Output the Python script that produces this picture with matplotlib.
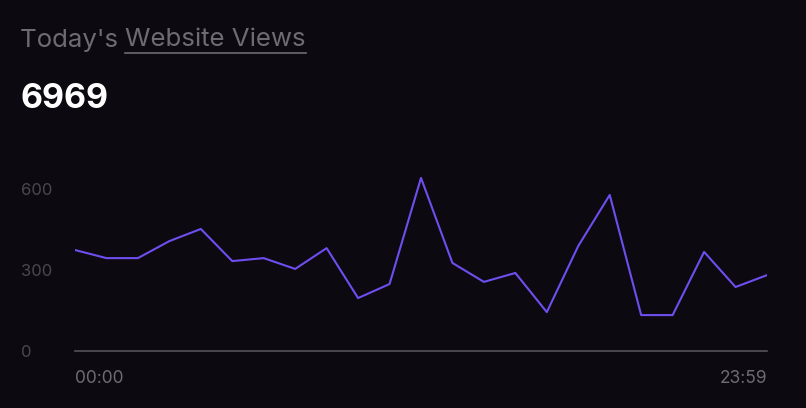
import matplotlib.pyplot as plt
from matplotlib.lines import Line2D

plt.rcParams['font.family'] = ['Inter', 'DejaVu Sans']

hours = list(range(23))
views = [374, 344, 344, 407, 452, 333, 344, 304, 381, 196, 248, 641, 326,
         256, 289, 144, 389, 578, 133, 133, 367, 237, 281]
yticks = [0, 300, 600]
xlabels = ['00:00', '23:59']
total = '6969'

bg = '#0c0a10'
grey = '#6e6b73'

fig = plt.figure(figsize=(8.06, 4.08), dpi=100, facecolor=bg)
ax = fig.add_axes([75 / 806, 57 / 408, 692 / 806, 189 / 408], facecolor=bg)
ax.plot(hours, views, color='#6d4ff0', lw=1.5)
ax.set_xlim(0, len(hours) - 1)
ax.set_ylim(0, 700)
ax.set_yticks(yticks)
ax.set_yticklabels([str(v) for v in yticks], color='#4a4750', fontsize=12)
ax.set_xticks([0, len(hours) - 1])
ax.set_xticklabels(xlabels, color=grey, fontsize=12.5)
ax.get_xticklabels()[0].set_ha('left')
ax.get_xticklabels()[1].set_ha('right')
ax.tick_params(length=0, pad=14)
ax.tick_params(axis='y', pad=39)
for s in ['top', 'right', 'left']:
    ax.spines[s].set_visible(False)
ax.spines['bottom'].set_color('#55525a')
ax.spines['bottom'].set_linewidth(1.2)
for lab in ax.get_yticklabels():
    lab.set_ha('left')

t1 = fig.text(20 / 806, 1 - 40 / 408, "Today's ", color=grey, fontsize=18.6, va='center')
fig.canvas.draw()
r = fig.canvas.get_renderer()
bb = t1.get_window_extent(r)
t2 = fig.text(bb.x1 / 806, 1 - 40 / 408, "Website Views", color=grey, fontsize=18.6, va='center')
bb2 = t2.get_window_extent(r)
yl = (bb2.y0 - 1) / 408
fig.add_artist(Line2D([bb2.x0 / 806, bb2.x1 / 806], [yl, yl], color=grey, lw=1.2))
fig.text(20 / 806, 1 - 99 / 408, total, color='white', fontsize=24.5, fontweight='bold', va='center')

fig.savefig('out.png', dpi=100, facecolor=bg)
